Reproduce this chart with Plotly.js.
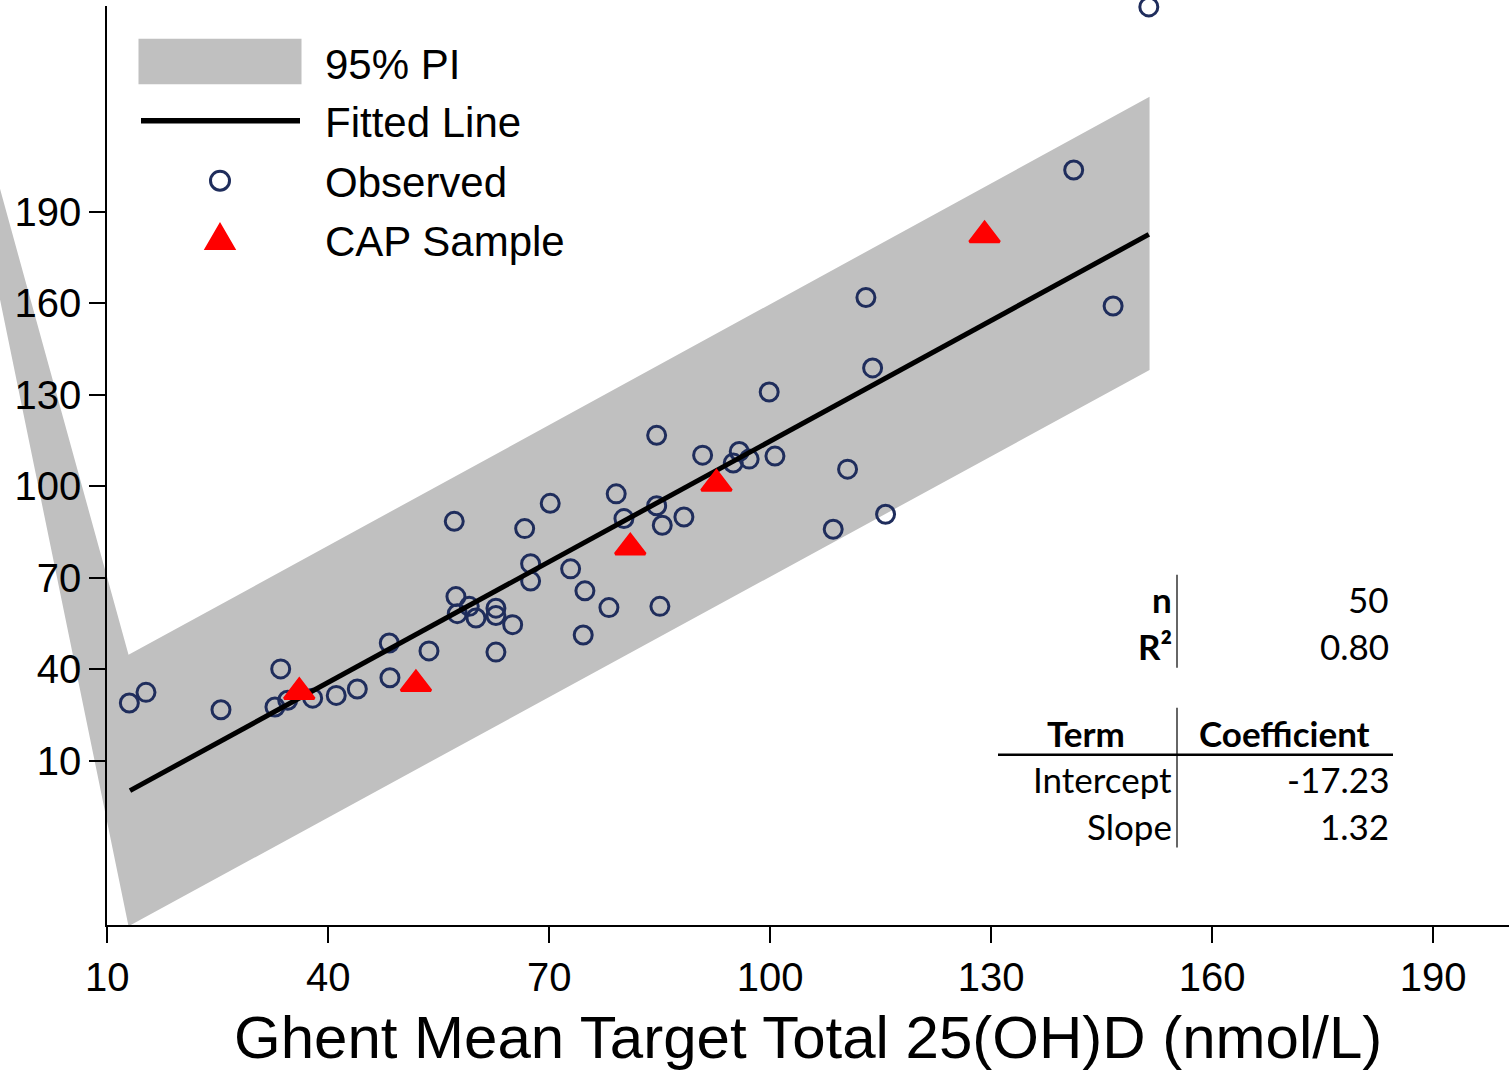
<!DOCTYPE html>
<html>
<head>
<meta charset="utf-8">
<script src="https://cdn.plot.ly/plotly-3.0.1.min.js"></script>
<style>html,body{margin:0;padding:0;background:#fff;}#chart{width:1509px;height:1071px;}</style>
</head>
<body>
<div id="chart"></div>
<script>
// ---- data ----
const obsX = [12.99,15.25,25.43,33.54,32.76,34.49,37.88,41.08,43.94,48.28,53.67,48.37,57.10,70.13,66.66,79.09,80.14,84.58,85.34,88.28,67.47,67.47,72.90,74.84,78.10,85.02,74.61,57.33,57.51,59.14,60.05,62.76,62.76,65.03,62.76,84.58,90.82,95.79,94.98,97.14,100.64,110.50,108.55,115.66,112.99,113.90,99.86,146.55,151.40,141.20];
const obsY = [28.9,32.4,26.7,40.1,27.6,29.8,30.5,31.4,33.5,48.6,46.0,37.2,88.5,94.4,86.1,97.5,89.4,93.6,87.2,89.9,74.6,68.9,72.9,65.7,60.2,60.6,51.2,63.8,58.2,60.6,56.8,60.0,57.6,54.6,45.6,116.7,110.2,111.4,107.6,108.9,109.9,105.6,85.9,90.8,161.9,138.8,130.9,159.1,257.2,203.7];
const capX = [36.06, 51.9, 81.0, 92.7, 129.1];
const capY = [32.5, 35.1, 79.9, 100.8, 182.3];
const fitX = [13.08, 151.4];
const fitY = [0.17, 182.6];
const bandX = [12.88, 151.5, 151.5, 12.88, -16.6, 12.88];
const bandY = [44.7, 227.7, 138.1, -44.3, 302.9, 44.7];
const tickVals = [10, 40, 70, 100, 130, 160, 190];
const tickText = ['10', '40', '70', '100', '130', '160', '190'];
const legendLabels = ['95% PI', 'Fitted Line', 'Observed', 'CAP Sample'];
const statLabels = ['n', 'R²'];
const statValues = ['50', '0.80'];
const termLabels = ['Intercept', 'Slope'];
const termValues = ['-17.23', '1.32'];
const xTitle = 'Ghent Mean Target Total 25(OH)D (nmol/L)';

// ---- geometry helpers (pixel -> paper) ----
const W = 1509, H = 1071, MT = 5.7, MB = 145.5;
const PH = H - MT - MB;
const px = v => v / W;
const py = v => (H - MB - v) / PH;

const NAVY = '#1f2d5c', GRAY = '#c0c0c0', RED = '#ff0000';
const AX = 'Liberation Sans, Arial, sans-serif';
const TB = 'Lato, Carlito, sans-serif';

const traces = [
  {x: bandX, y: bandY, xaxis: 'x', yaxis: 'y', type: 'scatter', mode: 'lines', fill: 'toself',
   fillcolor: GRAY, line: {width: 0, color: GRAY}, hoverinfo: 'skip', showlegend: false, name: legendLabels[0]},
  {x: obsX, y: obsY, xaxis: 'x', yaxis: 'y', type: 'scatter', mode: 'markers', cliponaxis: false,
   marker: {symbol: 'circle-open', size: 18, color: NAVY, line: {width: 3, color: NAVY}}, showlegend: false, name: legendLabels[2]},
  {x: fitX, y: fitY, xaxis: 'x', yaxis: 'y', type: 'scatter', mode: 'lines',
   line: {color: '#000000', width: 5}, showlegend: false, name: legendLabels[1]},
  {x: capX, y: capY, xaxis: 'x', yaxis: 'y', type: 'scatter', mode: 'markers', cliponaxis: false,
   marker: {symbol: 'triangle-up', size: 26, color: RED, line: {width: 3, color: RED}}, showlegend: false, name: legendLabels[3]},
  // empty trace that registers the visible axis pair (x2, y)
  {x: [], y: [], xaxis: 'x2', yaxis: 'y', type: 'scatter', mode: 'markers', hoverinfo: 'skip', showlegend: false}
];

const shapes = [
  // legend swatches
  {type: 'rect', xref: 'paper', yref: 'paper', x0: px(138.5), x1: px(301.5), y0: py(84), y1: py(38.5), fillcolor: GRAY, line: {width: 0}},
  {type: 'line', xref: 'paper', yref: 'paper', x0: px(141), x1: px(300), y0: py(120.5), y1: py(120.5), line: {color: '#000', width: 5.5}},
  {type: 'circle', xref: 'paper', yref: 'paper', x0: px(210.5), x1: px(229.5), y0: py(190), y1: py(171), line: {color: NAVY, width: 3}, fillcolor: 'rgba(0,0,0,0)'},
  {type: 'path', xref: 'paper', yref: 'paper', fillcolor: RED, line: {color: RED, width: 2},
   path: 'M ' + px(205.5) + ' ' + py(249) + ' L ' + px(234.5) + ' ' + py(249) + ' L ' + px(220) + ' ' + py(224) + ' Z'},
  // table rules
  {type: 'line', xref: 'paper', yref: 'paper', x0: px(1177), x1: px(1177), y0: py(575), y1: py(668), line: {color: '#333', width: 1.5}},
  {type: 'line', xref: 'paper', yref: 'paper', x0: px(1177), x1: px(1177), y0: py(708), y1: py(848), line: {color: '#333', width: 1.5}},
  {type: 'line', xref: 'paper', yref: 'paper', x0: px(998), x1: px(1393), y0: py(755), y1: py(755), line: {color: '#000', width: 2.5}}
];

const ann = [];
const legY = [64.5, 122.5, 182, 241.5];
legendLabels.forEach((t, i) => ann.push({xref: 'paper', yref: 'paper', x: px(323), y: py(legY[i]), xanchor: 'left', yanchor: 'middle',
  text: t, showarrow: false, font: {family: AX, size: 42, color: '#000'}}));
const statY = [599, 646];
statLabels.forEach((t, i) => {
  ann.push({xref: 'paper', yref: 'paper', x: px(1174), y: py(statY[i]), xanchor: 'right', yanchor: 'middle',
    text: '<b>' + t + '</b>', showarrow: false, font: {family: TB, size: 35, color: '#000'}});
  ann.push({xref: 'paper', yref: 'paper', x: px(1391), y: py(statY[i]), xanchor: 'right', yanchor: 'middle',
    text: statValues[i], showarrow: false, font: {family: TB, size: 35, color: '#000'}});
});
ann.push({xref: 'paper', yref: 'paper', x: px(1086), y: py(733), xanchor: 'center', yanchor: 'middle',
  text: '<b>Term</b>', showarrow: false, font: {family: TB, size: 35, color: '#000'}});
ann.push({xref: 'paper', yref: 'paper', x: px(1284), y: py(733), xanchor: 'center', yanchor: 'middle',
  text: '<b>Coefficient</b>', showarrow: false, font: {family: TB, size: 35, color: '#000'}});
const termY = [779, 826];
termLabels.forEach((t, i) => {
  ann.push({xref: 'paper', yref: 'paper', x: px(1174), y: py(termY[i]), xanchor: 'right', yanchor: 'middle',
    text: t, showarrow: false, font: {family: TB, size: 35, color: '#000'}});
  ann.push({xref: 'paper', yref: 'paper', x: px(1391), y: py(termY[i]), xanchor: 'right', yanchor: 'middle',
    text: termValues[i], showarrow: false, font: {family: TB, size: 35, color: '#000'}});
});

const layout = {
  width: W, height: H,
  margin: {l: 0, r: 0, t: MT, b: MB, pad: 0},
  paper_bgcolor: '#ffffff', plot_bgcolor: 'rgba(0,0,0,0)',
  showlegend: false,
  // hidden full-width axis that carries the data (lets the PI band run past the y axis, as in the reference)
  xaxis: {domain: [0, 1], range: [-4.57, 200.3], anchor: 'y', visible: false, showgrid: false, zeroline: false},
  // visible axis, same scale, starting at the y axis
  xaxis2: {visible: true, domain: [107.3 / W, 1], range: [10, 200.3], anchor: 'y', tickmode: 'array', tickvals: tickVals, ticktext: tickText,
    ticks: 'outside', ticklen: 16, tickwidth: 2, tickcolor: '#000', showline: true, linewidth: 2, linecolor: '#000',
    showgrid: false, zeroline: false, tickfont: {family: AX, size: 40, color: '#000'},
    title: {text: xTitle, font: {family: AX, size: 60, color: '#000'}, standoff: 18}},
  yaxis: {domain: [0, 1], range: [-43.9, 257.5], anchor: 'x2', tickmode: 'array', tickvals: tickVals, ticktext: tickText,
    ticks: 'outside', ticklen: 16, tickwidth: 2, tickcolor: '#000', showline: true, linewidth: 2, linecolor: '#000',
    showgrid: false, zeroline: false, tickfont: {family: AX, size: 40, color: '#000'}},
  shapes: shapes,
  annotations: ann
};

Plotly.newPlot('chart', traces, layout, {displayModeBar: false, staticPlot: true});
</script>
</body>
</html>
